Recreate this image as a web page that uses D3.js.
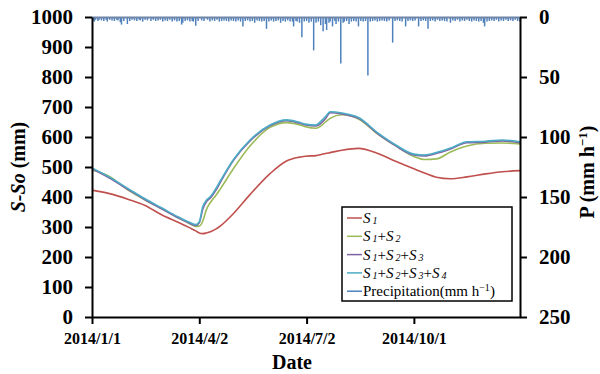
<!DOCTYPE html>
<html>
<head>
<meta charset="utf-8">
<script src="https://cdn.jsdelivr.net/npm/d3@7"></script>
<style>
  body { margin: 0; background: #fff; }
  svg { display: block; }
  svg text { font-family: "Liberation Serif", "Times New Roman", serif; }
  .axis path, .axis line { stroke: #000; stroke-width: 2px; }
  .axis text { font-weight: bold; fill: #000; }
  .legend text, .legend tspan { font-family: "Liberation Serif", serif; }
</style>
</head>
<body>
<div id="chart"></div>
<script>
// storage dates (shared by all S series)
var sDates = ["2014-01-01","2014-01-15","2014-02-01","2014-02-15","2014-03-01","2014-03-15","2014-03-25",
  "2014-03-30","2014-04-02","2014-04-05","2014-04-08","2014-04-12","2014-04-16","2014-04-20","2014-05-01","2014-05-15",
  "2014-06-01","2014-06-15","2014-06-25","2014-07-01","2014-07-10","2014-07-14","2014-07-18","2014-07-22",
  "2014-08-01","2014-08-15","2014-09-01","2014-09-15","2014-10-01","2014-10-10","2014-10-20","2014-11-01",
  "2014-11-15","2014-12-01","2014-12-15","2014-12-30"];

var s1 = [423,412,392,372,341,316,297,287,280,278,280,285,293,304,345,408,478,520,532,536,538,541,545,548,
  556,562,544,520,494,480,466,461,467,477,484,488];
var s12 = [490,470,422,390,361,331,311,302,303,320,358,385,405,428,495,570,632,648,642,634,629,636,650,662,
  674,660,608,572,535,525,527,550,570,579,580,577];
var s123 = [494,465,424,391,361,331,312,305,314,360,384,399,422,450,522,587,637,654,647,640,637,645,661,681,
  677,662,609,572,540,537,545,560,581,583,587,581];
var s1234 = [497,468,427,394,364,334,315,308,318,368,389,404,428,455,525,590,640,657,650,643,640,652,668,684,
  680,665,612,575,543,540,548,563,584,586,590,584];

// hourly precipitation peaks (day of year, mm/h)
var precipDays = [1,2,3,5,6,8,10,12,13,15,17,19,21,22,24,25,27,30,32,34,36,38,40,41,43,45,47,50,52,54,56,58,
  60,62,64,66,68,70,72,74,76,77,79,81,83,85,86,88,90,93,95,98,100,102,104,106,108,110,112,114,116,118,120,
  122,124,126,128,130,132,134,136,138,140,142,144,146,148,150,152,154,156,158,160,162,164,166,168,170,171,
  173,174,176,178,180,182,184,186,188,190,192,194,196,198,199,201,202,204,206,207,209,211,213,214,216,218,
  220,222,224,226,228,230,232,234,236,238,240,242,244,246,248,250,252,255,257,259,261,263,266,268,270,272,
  274,277,279,281,283,285,287,289,291,293,295,297,299,301,304,306,308,310,312,314,316,318,320,322,324,326,
  328,330,332,333,335,337,339,341,343,345,347,349,351,353,355,357,359,361,363];
var precipValues = [2,3,1.5,2.5,1.5,2,2.5,1.5,3,1.5,2,2.5,1.5,2,3.5,5.5,2.5,5,2.5,1.5,2,2.5,1.5,2,3,1.5,2,2.5,1.5,2.5,2,1.5,
  3,2,2.5,1.5,3,2,3,2.5,5.5,4,2.5,2,3,2.5,3,6.5,2.5,2,2.5,1.5,3,2,2.5,1.5,3,2.5,2,2.5,3,2,2.5,
  3,2,3,7,2.5,2,3,2.5,4,2,2.5,3,2.5,9,3,2,3,2.5,2,4,2.5,3,2,3,3,7,
  2.5,3,4,16,3,2.5,4,3,27,4,3,6,11,5,10,4,3,7,2.5,5,3,38,4,3,2.5,5,
  3,2.5,3,7,2.5,3,2.5,48,3,2.5,2,3,2.5,2,2.5,3,2,20.5,2.5,2,2.5,3,7,2.5,2,2.5,
  2,7,2.5,2,2.5,9,2.5,2,3,1.5,2.5,2,2.5,3,4,2,2.5,1.5,3,2,2.5,1.5,2.5,3,2,2.5,
  3,2.5,4,7,3,2.5,2,2.5,1.5,3,2,2.5,1.5,2.5,2,2.5,1.5,2.5,3];

var xTicks = ["2014-01-01","2014-04-02","2014-07-02","2014-10-01"];
var yTicks = [0,100,200,300,400,500,600,700,800,900,1000];
var pTicks = [0,50,100,150,200,250];

var parse = d3.timeParse("%Y-%m-%d");
var fmt = d3.timeFormat("%Y/%-m/%-d");
var serif = "'Liberation Serif', 'Times New Roman', serif";

var w = 600, h = 374;
var margin = { top: 17, right: 80, bottom: 57, left: 92 };

var svg = d3.select("#chart").append("svg")
  .attr("width", w)
  .attr("height", h);

var x = d3.scaleTime()
  .domain([parse("2014-01-01"), parse("2014-12-30")])
  .range([margin.left, w - margin.right]);
var y = d3.scaleLinear().domain([0, 1000]).range([h - margin.bottom, margin.top]);
var yP = d3.scaleLinear().domain([0, 250]).range([margin.top, h - margin.bottom]);

var series = [
  { name: "s1", values: s1, color: "#C0504D" },
  { name: "s12", values: s12, color: "#9BBB59" },
  { name: "s123", values: s123, color: "#8064A2" },
  { name: "s1234", values: s1234, color: "#4BACC6" }
];

var line = d3.line()
  .x(d => x(d.date))
  .y(d => y(d.v))
  .curve(d3.curveMonotoneX);

series.forEach(s => {
  var pts = sDates.map((d, i) => ({ date: parse(d), v: s.values[i] }));
  svg.append("path")
    .datum(pts)
    .attr("fill", "none")
    .attr("stroke", s.color)
    .attr("stroke-width", 1.6)
    .attr("d", line);
});

// precipitation hanging from the top
var start = parse("2014-01-01");
svg.append("g").selectAll("line")
  .data(precipDays)
  .enter().append("line")
  .attr("x1", d => x(d3.timeDay.offset(start, d)))
  .attr("x2", d => x(d3.timeDay.offset(start, d)))
  .attr("y1", margin.top)
  .attr("y2", (d, i) => yP(precipValues[i]) + 1)
  .attr("stroke", "#4F81BD")
  .attr("stroke-width", 1.5);

svg.append("line")
  .attr("x1", margin.left).attr("x2", w - margin.right)
  .attr("y1", margin.top + 0.5).attr("y2", margin.top + 0.5)
  .attr("stroke", "#6f86a8")
  .attr("stroke-width", 2);

// axes
var gx = svg.append("g")
  .attr("class", "axis")
  .attr("transform", `translate(0,${h - margin.bottom})`)
  .call(d3.axisBottom(x).tickValues(xTicks.map(parse)).tickFormat(fmt).tickSize(7).tickSizeOuter(0));
gx.attr("font-family", serif);
gx.selectAll("text").style("font-size", "16px").attr("dy", "1.05em");

var gy = svg.append("g")
  .attr("class", "axis")
  .attr("transform", `translate(${margin.left},0)`)
  .call(d3.axisLeft(y).tickValues(yTicks).tickFormat(d3.format("d")).tickSize(7).tickSizeOuter(0));
gy.attr("font-family", serif);
gy.selectAll("text").style("font-size", "21px").attr("x", -19);

var gp = svg.append("g")
  .attr("class", "axis")
  .attr("transform", `translate(${w - margin.right},0)`)
  .call(d3.axisRight(yP).tickValues(pTicks).tickSize(7).tickSizeOuter(0));
gp.attr("font-family", serif);
gp.selectAll("text").style("font-size", "21px").attr("x", 19);

// axis titles
svg.append("text")
  .attr("x", 292).attr("y", 369)
  .attr("text-anchor", "middle")
  .style("font-size", "20px").style("font-weight", "bold")
  .text("Date");

var ly = svg.append("text")
  .attr("transform", "translate(25,167) rotate(-90)")
  .attr("text-anchor", "middle")
  .style("font-size", "20px").style("font-weight", "bold");
ly.append("tspan").style("font-style", "italic").text("S-So");
ly.append("tspan").text(" (mm)");

var ry = svg.append("text")
  .attr("transform", "translate(594,172) rotate(-90)")
  .attr("text-anchor", "middle")
  .style("font-size", "20px").style("font-weight", "bold");
ry.append("tspan").text("P (mm h");
ry.append("tspan").attr("dy", -7).style("font-size", "13px").text("\u22121");
ry.append("tspan").attr("dy", 7).text(")");

// legend
var lg = svg.append("g").attr("class", "legend");
lg.append("rect")
  .attr("x", 342).attr("y", 207)
  .attr("width", 170).attr("height", 94)
  .attr("fill", "#fff")
  .attr("stroke", "#000")
  .attr("stroke-width", 1.5);

var legendItems = [
  { parts: [1], color: "#C0504D" },
  { parts: [1, 2], color: "#9BBB59" },
  { parts: [1, 2, 3], color: "#8064A2" },
  { parts: [1, 2, 3, 4], color: "#4BACC6" },
  { parts: null, color: "#4F81BD" }
];

legendItems.forEach((item, i) => {
  var yy = 218 + i * 18.3;
  lg.append("line")
    .attr("x1", 347).attr("x2", 362)
    .attr("y1", yy).attr("y2", yy)
    .attr("stroke", item.color).attr("stroke-width", 1.5);
  var t = lg.append("text")
    .attr("x", 363).attr("y", yy + 5)
    .attr("font-family", "Liberation Serif")
    .style("font-size", "15px");
  if (item.parts) {
    item.parts.forEach((p, j) => {
      if (j > 0) t.append("tspan").attr("dy", -1).text("+");
      t.append("tspan").attr("dy", j > 0 ? 0 : null).style("font-style", "italic").text("S");
      t.append("tspan").attr("dx", 2).attr("dy", 1).style("font-style", "italic").style("font-size", "10px").text(p);
    });
  } else {
    t.append("tspan").text("Precipitation(mm h");
    t.append("tspan").attr("dy", -5).style("font-size", "10px").text("\u22121");
    t.append("tspan").attr("dy", 5).text(")");
  }
});
</script>
</body>
</html>
